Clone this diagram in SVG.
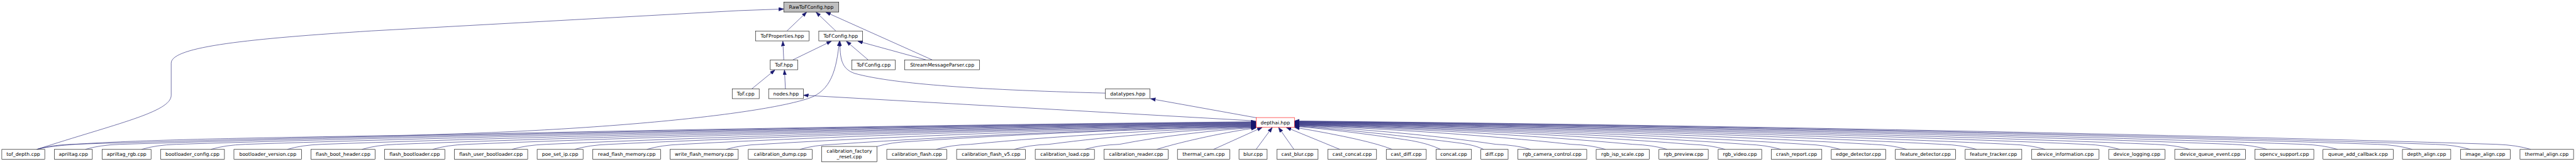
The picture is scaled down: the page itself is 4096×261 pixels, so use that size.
<svg xmlns="http://www.w3.org/2000/svg" width="4096" height="261" viewBox="0 0 4096 261">
<defs>
<style>
.n rect{fill:#fff;stroke:#000;stroke-width:1}
.n text{font-family:"DejaVu Sans",sans-serif;font-size:12.6px;text-anchor:middle;fill:#000}
#n_raw rect{fill:#bfbfbf}
#n_depthai rect{stroke:#ff0000}
.e path{fill:none;stroke:#191970;stroke-width:1;marker-end:url(#ah)}
</style>
<marker id="ah" markerUnits="userSpaceOnUse" viewBox="0 0 13 10" refX="13" refY="5" markerWidth="13" markerHeight="10" orient="auto"><path d="M0,0.4 L13,5 L0,9.6 z" fill="#191970" stroke="#191970" stroke-width="0.8"/></marker>
</defs>
<rect width="4096" height="261" fill="#fff"/>
<g transform="scale(0.6149)">
<g id="edges" class="e">
<path d="M2034.7,80.3 L2086,31.3"/>
<path d="M2161.4,80.3 L2110,31.3"/>
<path d="M2410.6,155 L2135,31.3"/>
<path d="M95,386.7 C300,320 442.7,290 442.7,246.7 L442.7,163.3 C442.7,120 650,100 960,80 L1910,27.5 L2026.7,23.3"/>
<path d="M2026.7,155 L2024.3,106.5"/>
<path d="M2050,155 L2150,106.5"/>
<path d="M2245,155 L2188.3,106.5"/>
<path d="M2394.8,155 L2218,106.5"/>
<path d="M95,386.7 C150,372 300,362 950,352 C1500,344 1950,300 2090,255 C2150,235 2163,180 2170.5,106.5"/>
<path d="M2858.6,241 C2500,232 2300,215 2210,190 C2175,178 2172,150 2172,106.5"/>
<path d="M1944,230 L2004,181"/>
<path d="M2031,230 L2028.5,181"/>
<path d="M3248.3,313 L2077.6,246.5"/>
<path d="M3250,305 L2975,255.5"/>
<path d="M95,386.7 Q131,375.5 185,373.5 C1104,345.4 2329.3,323.8 3248.3,315"/>
<path d="M220.4,386.7 Q256.4,375.5 310.4,373.5 C1191.8,345.9 2366.9,324.6 3248.3,316"/>
<path d="M366,386.7 Q402,375.5 456,373.5 C1293.7,346.4 2410.6,325.5 3248.3,317"/>
<path d="M545,386.7 Q581,375.5 635,373.5 C1419,346.9 2464.3,326.3 3248.3,318"/>
<path d="M742.7,386.7 Q778.7,375.5 832.7,373.5 C1557.4,347.3 2523.6,327.2 3248.3,319"/>
<path d="M935.6,386.7 Q971.6,375.5 1025.6,373.5 C1692.4,347.8 2581.5,328 3248.3,320"/>
<path d="M1118.4,386.7 Q1154.4,375.5 1208.4,373.5 C1820.4,348.3 2636.3,328.9 3248.3,321"/>
<path d="M1323.5,386.7 Q1359.5,375.5 1413.5,373.5 C1963.9,348.8 2697.9,329.7 3248.3,322"/>
<path d="M1485.8,386.7 Q1521.8,375.5 1575.8,373.5 C2077.6,349.3 2746.5,330.6 3248.3,323"/>
<path d="M1672.6,386.7 Q1708.6,375.5 1762.6,373.5 C2208.3,349.7 2802.6,331.4 3248.3,324"/>
<path d="M1877.7,386.7 Q1913.7,375.5 1967.7,373.5 C2351.9,350.2 2864.1,332.3 3248.3,325"/>
<path d="M2068.4,386.7 Q2104.4,375.5 2158.4,373.5 C2485.4,350.7 2921.3,333.1 3248.3,326"/>
<path d="M2268,379 Q2304,368 2358,366 C2625.1,347.3 2981.2,332.9 3248.3,327"/>
<path d="M2420.5,386.7 Q2456.5,375.5 2510.5,373.5 C2731.8,351.7 3027,334.8 3248.3,328"/>
<path d="M2622.6,386.7 Q2658.6,375.5 2712.6,373.5 C2873.3,352.1 3087.6,335.7 3248.3,329"/>
<path d="M2805,386.7 Q2841,375.5 2895,373.5 C3001,352.6 3142.3,336.5 3248.3,330"/>
<path d="M2990.8,386.7 C3060,365 3180,340 3248.3,331"/>
<path d="M3137.8,386.7 L3264,329.7"/>
<path d="M3248,386.7 L3290,329.7"/>
<path d="M3346,386.7 L3306,329.7"/>
<path d="M3465,386.7 L3326,329.7"/>
<path d="M3600,386.7 Q3540,362 3347.3,329.5"/>
<path d="M3725.5,386.7 Q3695,372 3650,364 C3560,350 3420,332 3347.3,327"/>
<path d="M3836.7,386.7 Q3815,376 3780,371 C3650,354 3450,332 3347.3,326"/>
<path d="M3958,386.7 Q3922,375.5 3868,373.5 C3711.8,350.2 3503.5,332.3 3347.3,325"/>
<path d="M4152,386.7 Q4116,375.5 4062,373.5 C3847.6,349.8 3561.7,331.6 3347.3,324.2"/>
<path d="M4311.3,386.7 Q4275.3,375.5 4221.3,373.5 C3959.1,349.5 3609.5,330.9 3347.3,323.4"/>
<path d="M4461.3,386.7 Q4425.3,375.5 4371.3,373.5 C4064.1,349.1 3654.5,330.2 3347.3,322.6"/>
<path d="M4605.2,386.7 Q4569.2,375.5 4515.2,373.5 C4164.8,348.7 3697.7,329.6 3347.3,321.8"/>
<path d="M4759.2,386.7 Q4723.2,375.5 4669.2,373.5 C4272.6,348.3 3743.9,328.9 3347.3,321"/>
<path d="M4930.6,386.7 Q4894.6,375.5 4840.6,373.5 C4392.6,347.9 3795.3,328.2 3347.3,320.2"/>
<path d="M5111.3,386.7 Q5075.3,375.5 5021.3,373.5 C4519.1,347.5 3849.5,327.5 3347.3,319.4"/>
<path d="M5288.9,386.7 Q5252.9,375.5 5198.9,373.5 C4643.4,347.1 3902.8,326.8 3347.3,318.6"/>
<path d="M5481.8,386.7 Q5445.8,375.5 5391.8,373.5 C4778.4,346.8 3960.7,326.2 3347.3,317.8"/>
<path d="M5662.4,386.7 Q5626.4,375.5 5572.4,373.5 C4904.9,346.4 4014.8,325.5 3347.3,317"/>
<path d="M5862.4,386.7 Q5826.4,375.5 5772.4,373.5 C5044.9,346 4074.8,324.8 3347.3,316.2"/>
<path d="M6045,386.7 Q6009,375.5 5955,373.5 C5172.7,345.6 4129.6,324.1 3347.3,315.4"/>
<path d="M6238,386.7 Q6202,375.5 6148,373.5 C5307.8,345.2 4187.5,323.4 3347.3,314.6"/>
<path d="M6387.7,386.7 Q6351.7,375.5 6297.7,373.5 C5412.6,344.8 4232.4,322.8 3347.3,313.8"/>
<path d="M6544.6,386.7 Q6508.6,375.5 6454.6,373.5 C5522.4,344.5 4279.5,322.1 3347.3,313"/>
</g>
<g id="n_raw" class="n"><rect x="2026.7" y="5.3" width="142.3" height="25.8"/><text x="2097.85" y="22.6">RawToFConfig.hpp</text></g>
<g id="n_tofproperties" class="n"><rect x="1953.9" y="80.3" width="138.3" height="25.5"/><text x="2023.05" y="97.3">ToFProperties.hpp</text></g>
<g id="n_tofconfig_hpp" class="n"><rect x="2117.3" y="80.3" width="113.3" height="25.5"/><text x="2173.95" y="97.3">ToFConfig.hpp</text></g>
<g id="n_tof_hpp" class="n"><rect x="1991.8" y="155" width="71.1" height="25.5"/><text x="2027.35" y="172">ToF.hpp</text></g>
<g id="n_tofconfig_cpp" class="n"><rect x="2203.1" y="155" width="112" height="25.5"/><text x="2259.1" y="172">ToFConfig.cpp</text></g>
<g id="n_streammessageparser" class="n"><rect x="2339.6" y="155" width="193.5" height="25.5"/><text x="2436.35" y="172">StreamMessageParser.cpp</text></g>
<g id="n_tof_cpp" class="n"><rect x="1893.4" y="230" width="69.8" height="25.3"/><text x="1928.3" y="247">ToF.cpp</text></g>
<g id="n_nodes" class="n"><rect x="1987.6" y="230" width="90" height="25.3"/><text x="2032.6" y="247">nodes.hpp</text></g>
<g id="n_datatypes" class="n"><rect x="2858.6" y="230" width="115.1" height="25.3"/><text x="2916.15" y="247">datatypes.hpp</text></g>
<g id="n_depthai" class="n"><rect x="3248.3" y="304.3" width="99" height="25.4"/><text x="3297.8" y="321.3">depthai.hpp</text></g>
<g id="n_tof_depth" class="n"><rect x="4.7" y="386.7" width="111" height="25.3"/><text x="60.2" y="403.5">tof_depth.cpp</text></g>
<g id="n_apriltag" class="n"><rect x="140.8" y="386.7" width="98" height="25.3"/><text x="189.8" y="403.5">apriltag.cpp</text></g>
<g id="n_apriltag_rgb" class="n"><rect x="263.9" y="386.7" width="126.7" height="25.3"/><text x="327.25" y="403.5">apriltag_rgb.cpp</text></g>
<g id="n_bootloader_config" class="n"><rect x="415.1" y="386.7" width="165.3" height="25.3"/><text x="497.75" y="403.5">bootloader_config.cpp</text></g>
<g id="n_bootloader_version" class="n"><rect x="604.9" y="386.7" width="175.1" height="25.3"/><text x="692.45" y="403.5">bootloader_version.cpp</text></g>
<g id="n_flash_boot_header" class="n"><rect x="803.9" y="386.7" width="166.3" height="25.3"/><text x="887.05" y="403.5">flash_boot_header.cpp</text></g>
<g id="n_flash_bootloader" class="n"><rect x="994.1" y="386.7" width="156.1" height="25.3"/><text x="1072.15" y="403.5">flash_bootloader.cpp</text></g>
<g id="n_flash_user_bootloader" class="n"><rect x="1174.7" y="386.7" width="189.8" height="25.3"/><text x="1269.6" y="403.5">flash_user_bootloader.cpp</text></g>
<g id="n_poe_set_ip" class="n"><rect x="1389" y="386.7" width="118.8" height="25.3"/><text x="1448.4" y="403.5">poe_set_ip.cpp</text></g>
<g id="n_read_flash_memory" class="n"><rect x="1532.9" y="386.7" width="175.7" height="25.3"/><text x="1620.75" y="403.5">read_flash_memory.cpp</text></g>
<g id="n_write_flash_memory" class="n"><rect x="1733.1" y="386.7" width="175.9" height="25.3"/><text x="1821.05" y="403.5">write_flash_memory.cpp</text></g>
<g id="n_calibration_dump" class="n"><rect x="1935" y="386.7" width="165" height="25.3"/><text x="2017.5" y="403.5">calibration_dump.cpp</text></g>
<g id="n_calibration_factory_reset" class="n"><rect x="2124.7" y="379" width="143.3" height="40"/><text x="2196.35" y="395">calibration_factory</text><text x="2196.35" y="410">_reset.cpp</text></g>
<g id="n_calibration_flash" class="n"><rect x="2293.1" y="386.7" width="155.5" height="25.3"/><text x="2370.85" y="403.5">calibration_flash.cpp</text></g>
<g id="n_calibration_flash_v5" class="n"><rect x="2473.7" y="386.7" width="178.2" height="25.3"/><text x="2562.8" y="403.5">calibration_flash_v5.cpp</text></g>
<g id="n_calibration_load" class="n"><rect x="2677" y="386.7" width="153" height="25.3"/><text x="2753.5" y="403.5">calibration_load.cpp</text></g>
<g id="n_calibration_reader" class="n"><rect x="2854.9" y="386.7" width="165.9" height="25.3"/><text x="2937.85" y="403.5">calibration_reader.cpp</text></g>
<g id="n_thermal_cam" class="n"><rect x="3044.7" y="386.7" width="135.3" height="25.3"/><text x="3112.35" y="403.5">thermal_cam.cpp</text></g>
<g id="n_blur" class="n"><rect x="3203.9" y="386.7" width="72.8" height="25.3"/><text x="3240.3" y="403.5">blur.cpp</text></g>
<g id="n_cast_blur" class="n"><rect x="3301.8" y="386.7" width="106.6" height="25.3"/><text x="3355.1" y="403.5">cast_blur.cpp</text></g>
<g id="n_cast_concat" class="n"><rect x="3433.5" y="386.7" width="126.1" height="25.3"/><text x="3496.55" y="403.5">cast_concat.cpp</text></g>
<g id="n_cast_diff" class="n"><rect x="3584.7" y="386.7" width="103.5" height="25.3"/><text x="3636.45" y="403.5">cast_diff.cpp</text></g>
<g id="n_concat" class="n"><rect x="3713.3" y="386.7" width="91.8" height="25.3"/><text x="3759.2" y="403.5">concat.cpp</text></g>
<g id="n_diff" class="n"><rect x="3829.4" y="386.7" width="70.4" height="25.3"/><text x="3864.6" y="403.5">diff.cpp</text></g>
<g id="n_rgb_camera_control" class="n"><rect x="3924.9" y="386.7" width="178.2" height="25.3"/><text x="4014" y="403.5">rgb_camera_control.cpp</text></g>
<g id="n_rgb_isp_scale" class="n"><rect x="4127.5" y="386.7" width="137.2" height="25.3"/><text x="4196.1" y="403.5">rgb_isp_scale.cpp</text></g>
<g id="n_rgb_preview" class="n"><rect x="4289.8" y="386.7" width="127.4" height="25.3"/><text x="4353.5" y="403.5">rgb_preview.cpp</text></g>
<g id="n_rgb_video" class="n"><rect x="4442.9" y="386.7" width="112.6" height="25.3"/><text x="4499.2" y="403.5">rgb_video.cpp</text></g>
<g id="n_crash_report" class="n"><rect x="4580.6" y="386.7" width="130.4" height="25.3"/><text x="4645.8" y="403.5">crash_report.cpp</text></g>
<g id="n_edge_detector" class="n"><rect x="4735.5" y="386.7" width="140.6" height="25.3"/><text x="4805.8" y="403.5">edge_detector.cpp</text></g>
<g id="n_feature_detector" class="n"><rect x="4901.2" y="386.7" width="155.5" height="25.3"/><text x="4978.95" y="403.5">feature_detector.cpp</text></g>
<g id="n_feature_tracker" class="n"><rect x="5081.8" y="386.7" width="146.4" height="25.3"/><text x="5155" y="403.5">feature_tracker.cpp</text></g>
<g id="n_device_information" class="n"><rect x="5253.3" y="386.7" width="174.5" height="25.3"/><text x="5340.55" y="403.5">device_information.cpp</text></g>
<g id="n_device_logging" class="n"><rect x="5452.9" y="386.7" width="145.7" height="25.3"/><text x="5525.75" y="403.5">device_logging.cpp</text></g>
<g id="n_device_queue_event" class="n"><rect x="5623.7" y="386.7" width="182.9" height="25.3"/><text x="5715.15" y="403.5">device_queue_event.cpp</text></g>
<g id="n_opencv_support" class="n"><rect x="5831.2" y="386.7" width="152" height="25.3"/><text x="5907.2" y="403.5">opencv_support.cpp</text></g>
<g id="n_queue_add_callback" class="n"><rect x="6007" y="386.7" width="181.5" height="25.3"/><text x="6097.75" y="403.5">queue_add_callback.cpp</text></g>
<g id="n_depth_align" class="n"><rect x="6212.4" y="386.7" width="125" height="25.3"/><text x="6274.9" y="403.5">depth_align.cpp</text></g>
<g id="n_image_align" class="n"><rect x="6362.5" y="386.7" width="128.7" height="25.3"/><text x="6426.85" y="403.5">image_align.cpp</text></g>
<g id="n_thermal_align" class="n"><rect x="6516.4" y="386.7" width="138.5" height="25.3"/><text x="6585.65" y="403.5">thermal_align.cpp</text></g>
</g>
</svg>
